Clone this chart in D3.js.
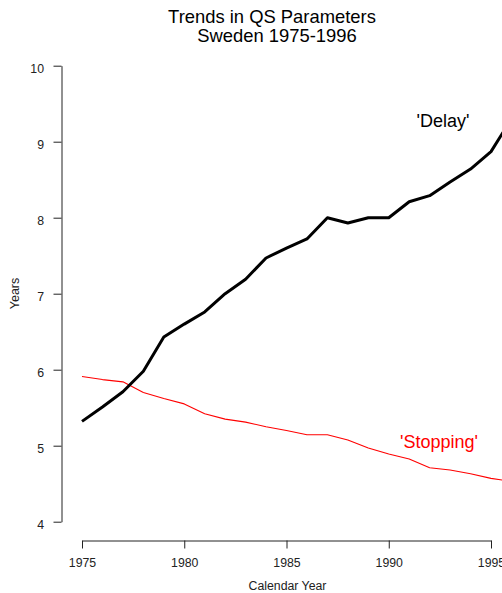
<!DOCTYPE html>
<html>
<head>
<meta charset="utf-8">
<script src="https://cdn.jsdelivr.net/npm/d3@7/dist/d3.min.js"></script>
<style>
  html, body { margin: 0; padding: 0; background: #fff; overflow: hidden; }
  svg { display: block; font-family: "Liberation Sans", Arial, Helvetica, sans-serif; }
</style>
</head>
<body>
<svg id="chart" width="502" height="593"></svg>
<script>
// ---- Data ----
const years = [1975,1976,1977,1978,1979,1980,1981,1982,1983,1984,1985,1986,1987,1988,1989,1990,1991,1992,1993,1994,1995,1996];
const delay = [5.32,5.51,5.71,5.98,6.43,6.60,6.76,7.00,7.19,7.47,7.60,7.72,8.00,7.93,8.00,8.00,8.21,8.29,8.47,8.64,8.87,9.30];
const stopping = [5.91,5.87,5.84,5.70,5.62,5.55,5.42,5.35,5.31,5.25,5.20,5.145,5.145,5.075,4.97,4.89,4.825,4.71,4.68,4.63,4.57,4.53];
const xTicks = [1975,1980,1985,1990,1995];
const yTicks = [4,5,6,7,8,9,10];
const titleLines = ["Trends in QS Parameters", "Sweden 1975-1996"];
const xLabel = "Calendar Year";
const yLabel = "Years";
const seriesLabels = ["'Delay'", "'Stopping'"];

// ---- Drawing ----
const svg = d3.select("#chart");
const x = d3.scaleLinear().domain([1975, 1995]).range([82, 491]);
const y = d3.scaleLinear().domain([4, 10]).range([521.7, 65.7]);

// Title
svg.append("text").attr("x", 272).attr("y", 22.5).attr("text-anchor", "middle")
  .attr("font-size", 18.4).attr("fill", "#000").text(titleLines[0]);
svg.append("text").attr("x", 277).attr("y", 41.5).attr("text-anchor", "middle")
  .attr("font-size", 18.4).attr("fill", "#000").text(titleLines[1]);

// X axis
const gx = svg.append("g").attr("transform", "translate(0,540.5)")
  .call(d3.axisBottom(x).tickValues(xTicks).tickFormat(d3.format("d"))
    .tickSize(8).tickSizeOuter(0).tickPadding(9.5));
gx.selectAll("path, line").attr("stroke", "#222").attr("stroke-width", 1);
gx.selectAll("text").attr("font-size", 12.3).attr("fill", "#222")
  .attr("font-family", "Liberation Sans, Arial, sans-serif");

// Y axis
const gy = svg.append("g").attr("transform", "translate(61.5,0)")
  .call(d3.axisLeft(y).tickValues(yTicks).tickFormat(d3.format("d"))
    .tickSize(8).tickSizeOuter(0).tickPadding(9.5));
gy.selectAll("path, line").attr("stroke", "#222").attr("stroke-width", 1);
gy.selectAll("text").attr("font-size", 12.3).attr("fill", "#222").attr("dy", "0.52em")
  .attr("font-family", "Liberation Sans, Arial, sans-serif");

// Axis labels
svg.append("text").attr("x", 287.5).attr("y", 590).attr("text-anchor", "middle")
  .attr("font-size", 12.3).attr("fill", "#222").text(xLabel);
svg.append("text").attr("transform", "translate(18.5,293.5) rotate(-90)")
  .attr("text-anchor", "middle").attr("font-size", 12.5).attr("fill", "#222").text(yLabel);

// Lines
const line = d3.line().x((d, i) => x(years[i])).y(d => y(d));
svg.append("path").datum(stopping).attr("d", line)
  .attr("fill", "none").attr("stroke", "#ff0000").attr("stroke-width", 1.1)
  .attr("stroke-linejoin", "round");
svg.append("path").datum(delay).attr("d", line)
  .attr("fill", "none").attr("stroke", "#000").attr("stroke-width", 3)
  .attr("stroke-linejoin", "round");

// Series labels
svg.append("text").attr("x", 443).attr("y", 127.3).attr("text-anchor", "middle")
  .attr("font-size", 18).attr("fill", "#000").text(seriesLabels[0]);
svg.append("text").attr("x", 439).attr("y", 448.3).attr("text-anchor", "middle")
  .attr("font-size", 18).attr("fill", "#ff0000").text(seriesLabels[1]);
</script>
</body>
</html>
